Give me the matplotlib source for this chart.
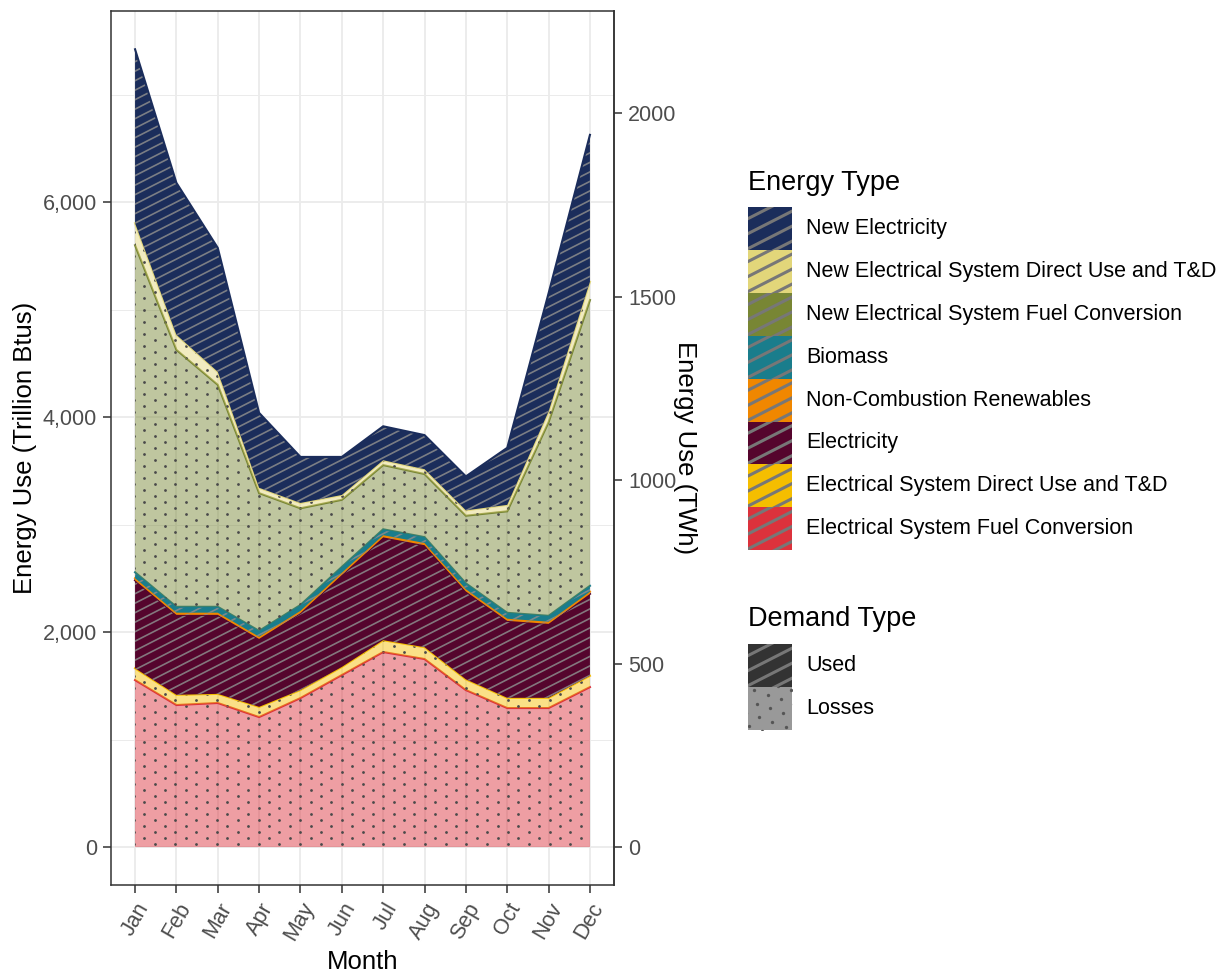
import numpy as np
import matplotlib
matplotlib.use("Agg")
import matplotlib.pyplot as plt
from matplotlib.collections import LineCollection
from matplotlib.patches import Rectangle
from matplotlib.ticker import FuncFormatter, FixedLocator

plt.rcParams['font.family'] = ['Liberation Sans', 'DejaVu Sans']

# ---------------- data (Trillion Btus) ----------------
months = ["Jan", "Feb", "Mar", "Apr", "May", "Jun",
          "Jul", "Aug", "Sep", "Oct", "Nov", "Dec"]
elec_sys_fuel_conv = [1553, 1321, 1340, 1209, 1386, 1600, 1814, 1749, 1460, 1293, 1293, 1488]
elec_sys_direct_td = [110, 95, 85, 95, 75, 75, 110, 110, 100, 95, 95, 105]
electricity = [818, 744, 735, 632, 716, 856, 957, 949, 818, 716, 688, 762]
non_comb_renew = [20, 20, 20, 20, 20, 20, 20, 20, 20, 20, 20, 20]
biomass = [55, 55, 55, 55, 55, 55, 55, 55, 55, 55, 55, 55]
new_elec_sys_fuel_conv = [3042, 2390, 2065, 1281, 899, 624, 597, 587, 629, 944, 1801, 2658]
new_elec_sys_direct_td = [205, 140, 121, 50, 50, 45, 45, 45, 50, 60, 100, 170]
new_electricity = [1618, 1414, 1153, 697, 428, 354, 316, 317, 316, 531, 1100, 1367]

energy_types = ["New Electricity", "New Electrical System Direct Use and T&D",
                "New Electrical System Fuel Conversion", "Biomass",
                "Non-Combustion Renewables", "Electricity",
                "Electrical System Direct Use and T&D",
                "Electrical System Fuel Conversion"]
demand_types = ["Used", "Losses"]
TBTU_PER_TWH = 3.412

# bottom -> top
layers = [
    ("Electrical System Fuel Conversion", elec_sys_fuel_conv, "#dc323c", "Losses"),
    ("Electrical System Direct Use and T&D", elec_sys_direct_td, "#f5be00", "Losses"),
    ("Electricity", electricity, "#55052d", "Used"),
    ("Non-Combustion Renewables", non_comb_renew, "#f08700", "Used"),
    ("Biomass", biomass, "#1a7d8c", "Used"),
    ("New Electrical System Fuel Conversion", new_elec_sys_fuel_conv, "#788634", "Losses"),
    ("New Electrical System Direct Use and T&D", new_elec_sys_direct_td, "#e2d67a", "Losses"),
    ("New Electricity", new_electricity, "#1b2d5b", "Used"),
]
color_of = {n: c for n, _, c, _ in layers}

W, H = 1228, 973
fig = plt.figure(figsize=(W / 100, H / 100), dpi=100)
AX_L, AX_R, AX_T, AX_B = 111, 614, 11, 885
ax = fig.add_axes([AX_L / W, 1 - AX_B / H, (AX_R - AX_L) / W, (AX_B - AX_T) / H])
AW, AH = AX_R - AX_L, AX_B - AX_T

x = np.arange(1, len(months) + 1)


def stripe_segments(w, h, vspace=9.5, angle=27, x0=0, y0=0):
    th = np.deg2rad(angle)
    d = np.array([np.cos(th), np.sin(th)])
    n = np.array([-np.sin(th), np.cos(th)])
    perp = vspace * np.cos(th)
    diag = np.hypot(w, h)
    c = np.array([x0 + w / 2, y0 + h / 2])
    segs = []
    for o in np.arange(-diag, diag, perp):
        p = c + n * o
        segs.append([p - d * diag, p + d * diag])
    return np.array(segs)


def dot_lattice(w, h, s=12.0, angle=30, x0=0, y0=0):
    th = np.deg2rad(angle)
    R = np.array([[np.cos(th), -np.sin(th)], [np.sin(th), np.cos(th)]])
    a = R @ np.array([s, 0.0])
    b = R @ np.array([s / 2, s * np.sqrt(3) / 2])
    N = int(np.hypot(w, h) / s) + 3
    i, j = np.meshgrid(np.arange(-N, N), np.arange(-N, N))
    pts = i.ravel()[:, None] * a + j.ravel()[:, None] * b
    pts = pts + np.array([x0 + w / 2, y0 + h / 2])
    m = (pts[:, 0] > x0 - 5) & (pts[:, 0] < x0 + w + 5) & (pts[:, 1] > y0 - 5) & (pts[:, 1] < y0 + h + 5)
    return pts[m]


# grid (ggplot theme_bw-like)
ax.set_axisbelow(True)
for v in [1000, 3000, 5000, 7000]:
    ax.axhline(v, color="#ebebeb", lw=0.7, zorder=0)
for v in [0, 2000, 4000, 6000]:
    ax.axhline(v, color="#ebebeb", lw=1.3, zorder=0)
for v in x:
    ax.axvline(v, color="#ebebeb", lw=1.3, zorder=0)

stripe_px = stripe_segments(AW, AH)
stripe_ax = stripe_px / np.array([AW, AH])
dots_px = dot_lattice(AW, AH)
dots_ax = dots_px / np.array([AW, AH])

base = np.zeros(len(months))
z = 2
for name, vals, col, dtype in layers:
    top = base + np.array(vals, dtype=float)
    alpha = 0.47 if dtype == "Losses" else 1.0
    poly = ax.fill_between(x, base, top, facecolor=col, alpha=alpha, linewidth=0, zorder=z)
    path = poly.get_paths()[0]
    if dtype == "Used":
        lc = LineCollection(stripe_ax, colors="#8c8c8c", linewidths=1.2, alpha=0.85,
                            transform=ax.transAxes, zorder=z + 0.1)
        ax.add_collection(lc, autolim=False)
        lc.set_clip_path(path, poly.get_transform())
    else:
        ln, = ax.plot(dots_ax[:, 0], dots_ax[:, 1], linestyle="none", marker="o",
                      markersize=2.0, color="#4a4a4a", markeredgewidth=0,
                      transform=ax.transAxes, zorder=z + 0.1)
        ln.set_clip_path(path, poly.get_transform())
    ax.plot(x, top, color=col, lw=1.5, zorder=z + 0.2, solid_joinstyle="miter")
    base = top
    z += 1

ax.set_xlim(1 - 24 / 41.27, 12 + 24 / 41.27)
ax.set_ylim(-353, 7777)

ax.set_xticks(x)
ax.set_xticklabels(months, rotation=60, ha="right", rotation_mode="anchor")
ax.yaxis.set_major_locator(FixedLocator([0, 2000, 4000, 6000]))
ax.yaxis.set_major_formatter(FuncFormatter(lambda v, p: f"{int(v):,}"))
ax.tick_params(axis="both", labelsize=15.5, colors="#333333", labelcolor="#4d4d4d",
               length=6, width=1.1, pad=4)
for s in ax.spines.values():
    s.set_color("#333333")
    s.set_linewidth(1.1)

ax.set_ylabel("Energy Use (Trillion Btus)", fontsize=18.5, color="black", labelpad=4)
ax.set_xlabel("Month", fontsize=18.5, color="black", labelpad=4)

sec = ax.secondary_yaxis("right", functions=(lambda v: v / TBTU_PER_TWH, lambda v: v * TBTU_PER_TWH))
sec.set_yticks([0, 500, 1000, 1500, 2000])
sec.tick_params(labelsize=15.5, colors="#333333", labelcolor="#4d4d4d", length=6, width=1.1, pad=4)
sec.spines["right"].set_color("#333333")
sec.spines["right"].set_linewidth(1.1)
sec.set_ylabel("Energy Use (TWh)", fontsize=18.5, rotation=270, labelpad=15)

# ---------------- legends (drawn in pixel coordinates) ----------------
ov = fig.add_axes([0, 0, 1, 1], facecolor="none")
ov.set_xlim(0, W)
ov.set_ylim(H, 0)
ov.axis("off")


def key(x0, y0, w, h, face, dtype):
    r = Rectangle((x0, y0), w, h, facecolor=face, edgecolor="none", zorder=3)
    ov.add_patch(r)
    if dtype == "Used":
        segs = stripe_segments(w, h, vspace=15, angle=27, x0=x0, y0=y0)
        segs[:, :, 1] = 2 * (y0 + h / 2) - segs[:, :, 1]
        lc = LineCollection(segs, colors="#777777", linewidths=2.2, zorder=4)
        ov.add_collection(lc)
        lc.set_clip_path(r)
    else:
        pts = dot_lattice(w, h, s=14, angle=20, x0=x0, y0=y0)
        ln, = ov.plot(pts[:, 0], pts[:, 1], "o", ms=2.4, color="#555555", mew=0, zorder=4)
        ln.set_clip_path(r)


KX, KW, KH = 748, 44, 42.9
ov.text(KX, 183, "Energy Type", fontsize=19.5, va="center", ha="left")
for i, name in enumerate(energy_types):
    y0 = 207 + i * KH
    key(KX, y0, KW, KH, color_of[name], "Used")
    ov.text(806, y0 + KH / 2, name, fontsize=15.5, va="center", ha="left")

ov.text(KX, 619, "Demand Type", fontsize=19.5, va="center", ha="left")
dem_faces = {"Used": "#333333", "Losses": "#999999"}
for i, name in enumerate(demand_types):
    y0 = 644 + i * KH
    key(KX, y0, KW, KH, dem_faces[name], name)
    ov.text(806, y0 + KH / 2, name, fontsize=15.5, va="center", ha="left")

fig.savefig("out.png", dpi=100)
